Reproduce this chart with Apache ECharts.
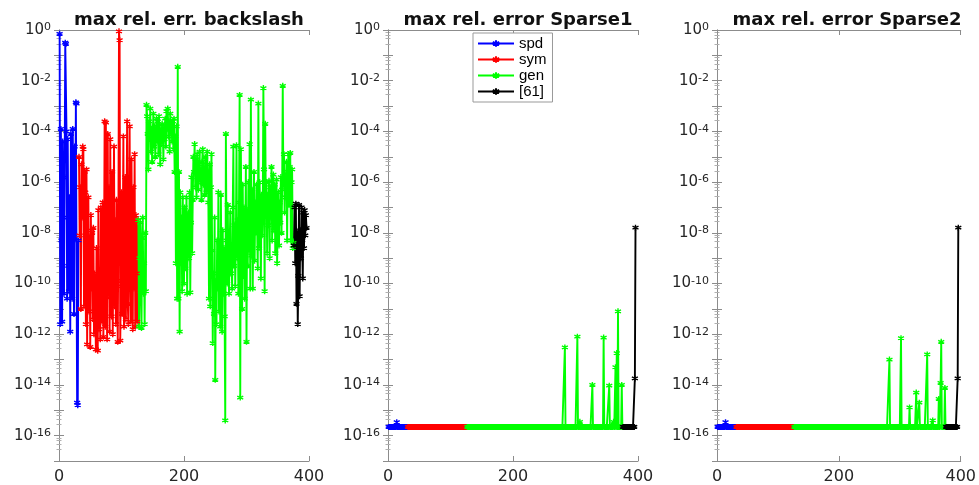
<!DOCTYPE html>
<html>
<head>
<meta charset="utf-8">
<title>max rel. error</title>
<script src="https://cdn.jsdelivr.net/npm/echarts@6/dist/echarts.min.js"></script>
<style>
  html, body { margin: 0; padding: 0; background: #fff; }
  #chart { width: 979px; height: 485px; }
</style>
</head>
<body>
<div id="chart"></div>
<script>
// first matrix index of every class
const spdStart = 1, symStart = 32, genStart = 127, refStart = 376
const classNames = ['spd', 'sym', 'gen', '[61]']
const classColors = ['#0000ff', '#ff0000', '#00ff00', '#000000']

// backslash, log10 of the max rel. error per matrix
const bsSpd = [-0.15, -11.6, -3.9, -8.3, -11.5, -4.4, -7.4, -10.4, -5.8, -0.5, -0.55, -4.0, -10.6, -4.3, -9.3, -10.3,
  -6.6, -11.9, -4.1, -7.8, -10.6, -3.9, -7.0, -11.2, -4.6, -8.2, -2.85, -2.9, -14.7, -14.8, -8.3]
const bsSym = [-5.0, -8.1, -6.2, -11.0, -5.3, -7.4, -4.6, -4.7, -10.9, -5.6,
  -6.4, -11.6, -5.5, -12.4, -7.9, -6.6, -11.1, -8.2, -12.5, -7.3,
  -10.2, -8.0, -11.4, -7.8, -12.0, -9.6, -11.0, -12.6, -8.6, -10.7,
  -12.65, -7.1, -11.8, -9.9, -12.2, -7.0, -10.6, -11.5, -6.8, -12.1,
  -9.1, -3.6, -11.7, -3.65, -8.4, -12.2, -4.1, -10.5, -6.2, -11.9,
  -4.3, -9.4, -11.3, -5.6, -12.0, -8.8, -4.6, -10.9, -7.5, -11.6,
  -6.7, -9.9, -12.3, -7.8, -0.05, -0.4, -12.25, -10.1, -6.4, -11.2,
  -8.3, -4.2, -11.7, -9.2, -5.8, -11.4, -7.6, -3.6, -10.8, -11.6,
  -6.9, -3.8, -9.7, -11.5, -5.1, -8.9, -11.8, -6.2, -10.2, -4.9,
  -11.7, -7.3, -9.6, -11.5, -7.5]
const bsGen = [-7.5, -11.7, -9.0, -7.6, -10.3, -11.75, -8.2, -7.4, -10.4, -9.2, -11.6, -8.0, -10.3,
  -2.95, -3.4, -4.1, -5.5, -3.6, -4.3, -3.1, -4.8, -3.9, -5.2,
  -4.0, -3.3, -4.6, -3.8, -5.0, -4.2, -3.5, -4.4, -3.6, -4.9,
  -3.4, -4.1, -5.3, -3.9, -4.5, -3.7, -4.0, -5.1, -3.8, -4.3,
  -3.5, -4.6, -3.2, -3.9, -3.1, -4.2, -3.6, -4.8, -3.3, -4.0,
  -3.7, -4.4, -3.6, -4.7, -3.5, -5.6, -4.2, -9.2, -3.8, -10.6,
  -1.45,
  -10.6, -5.6, -11.9, -6.4, -9.2, -7.4, -10.3, -6.6, -8.3, -10.0,
  -7.0, -9.4, -7.9, -6.6, -10.4, -8.4, -7.2, -9.0, -6.4, -10.35,
  -7.6, -5.8, -8.8, -6.7, -5.0,
  -5.6, -4.5, -6.2, -5.1, -6.6, -4.9, -5.8, -6.3, -5.3, -4.8,
  -6.0, -5.5, -6.7, -5.2, -4.7, -6.1, -5.4, -6.5, -5.0, -5.9,
  -6.4, -4.8, -5.6, -6.8, -10.6, -5.3, -10.9, -6.2, -4.9, -8.7,
  -12.35, -9.6, -11.2, -7.4, -13.8, -9.9, -11.6, -8.3, -10.2, -6.4,
  -11.1, -8.4, -11.7, -6.5, -9.8, -11.9, -7.9, -10.4, -8.6, -11.3,
  -15.4, -4.1,
  -8.3, -10.0, -6.9, -9.1, -10.4, -8.6, -7.2, -9.6, -8.9, -10.2,
  -7.0, -4.6, -9.3, -7.7, -10.1, -8.2, -4.55, -9.0, -7.5, -10.4,
  -6.8, -2.56, -14.5, -4.7, -8.4, -11.0, -6.1, -9.7, -7.0, -10.6,
  -8.2, -5.4, -12.3, -7.1, -9.3, -6.0, -8.7, -4.5, -10.2, -2.75,
  -8.9, -6.3, -10.2, -7.4, -5.6, -9.1, -6.8, -8.0, -6.1, -7.7,
  -9.4, -2.9, -8.6, -6.0, -7.3, -9.8, -6.5, -8.1, -7.0, -2.29,
  -5.5, -10.3, -3.7, -7.2, -6.0, -8.8, -6.5, -7.7, -5.95, -9.0,
  -6.2, -7.4, -5.4, -8.3, -6.6, -5.7, -7.9, -6.1, -8.8, -6.9,
  -5.9, -9.2, -7.1, -6.4, -8.5, -6.8, -7.6, -5.8, -8.0, -6.3,
  -2.2,
  -6.1, -4.9, -7.2, -5.8, -6.6, -5.2, -8.3, -5.6, -4.9, -6.9,
  -5.4, -4.85, -8.3, -6.0, -5.5, -8.6, -8.4]
const bsRef = [-8.5, -7.0, -9.2, -6.85, -10.8, -8.0, -11.6, -9.7, -6.9, -10.5, -7.9, -9.0, -7.0, -8.3, -9.8,
  -7.2, -8.6, -7.1, -8.1, -7.3, -7.8]

// Sparse1 / Sparse2 sit at the eps floor except for these [index, error] points
const sparseFloor = 2.2e-16
const s1Spd = [[14, 3.4e-16]]
const s1Sym = []
const s1Gen = [[283, 3e-13], [303, 8e-13], [307, 3.5e-16], [327, 1e-14], [345, 7.4e-13], [354, 9.3e-15],
  [361, 3.5e-16], [364, 5e-14], [366, 1.8e-13], [368, 8e-12], [374, 1e-14]]
const s1Ref = [[395, 1.8e-14], [396, 1.6e-8]]
const s2Spd = [[14, 3.4e-16]]
const s2Sym = []
const s2Gen = [[283, 1e-13], [302, 7e-13], [316, 1.3e-15], [327, 5e-15], [332, 2e-15], [345, 1.6e-13],
  [354, 4e-16], [364, 2.8e-15], [367, 1.2e-14], [368, 5e-13], [374, 7.6e-15]]
const s2Ref = [[395, 1.8e-14], [396, 1.6e-8]]

const titles = ['max rel. err. backslash', 'max rel. error Sparse1', 'max rel. error Sparse2']
const xTicks = [0, 200, 400]

const font = 'DejaVu Sans, Verdana, sans-serif'
const legendFont = 'Liberation Sans, Arial, Helvetica, sans-serif'
const axisGray = '#8c8c8c'
const lefts = [59, 388, 717]
const plotW = 250

function expPoints(start, exps) {
  return exps.map((e, i) => [start + i, Math.pow(10, e)])
}
function sparsePoints(start, count, spikes) {
  const out = []
  for (let i = 0; i < count; i++) out.push([start + i, sparseFloor])
  spikes.forEach(([idx, v]) => { out[idx - start][1] = v })
  return out
}

const counts = [symStart - spdStart, genStart - symStart, refStart - genStart, bsRef.length]
const starts = [spdStart, symStart, genStart, refStart]
const panels = [
  [bsSpd, bsSym, bsGen, bsRef].map((a, k) => expPoints(starts[k], a)),
  [s1Spd, s1Sym, s1Gen, s1Ref].map((s, k) => sparsePoints(starts[k], counts[k], s)),
  [s2Spd, s2Sym, s2Gen, s2Ref].map((s, k) => sparsePoints(starts[k], counts[k], s))
]

// matlab style '*' marker
const star = 'path://M5,0L5,10M0.7,2.5L9.3,7.5M9.3,2.5L0.7,7.5'

const grids = [], xAxes = [], yAxes = [], series = [], titleOpts = []
lefts.forEach((left, g) => {
  grids.push({ left: left, width: plotW, top: 30, height: 431 })
  titleOpts.push({
    text: titles[g], left: left + plotW / 2, top: 6, textAlign: 'center',
    textStyle: { fontFamily: font, fontSize: 18, fontWeight: 'bold', color: '#111' }
  })
  ;['bottom', 'top'].forEach(pos => {
    xAxes.push({
      type: 'value', gridIndex: g, position: pos, min: xTicks[0], max: xTicks[2], interval: xTicks[1] - xTicks[0],
      axisLine: { show: true, lineStyle: { color: axisGray } },
      axisTick: { show: true, inside: true, length: 5, lineStyle: { color: axisGray } },
      splitLine: { show: false },
      axisLabel: {
        show: pos === 'bottom', margin: 8, fontFamily: font, fontSize: 16, color: '#262626'
      }
    })
  })
  ;['left', 'right'].forEach(pos => {
    yAxes.push({
      type: 'log', logBase: 10, gridIndex: g, position: pos, min: 1e-17, max: 1, interval: 1,
      axisLine: { show: true, lineStyle: { color: axisGray } },
      axisTick: { show: true, inside: true, length: 5, lineStyle: { color: axisGray } },
      minorTick: { show: true, splitNumber: 5, length: 2.5, lineStyle: { color: '#b0b0b0' } },
      splitLine: { show: false },
      axisLabel: {
        show: pos === 'left', margin: 8,
        formatter: v => {
          const e = Math.round(Math.log10(v))
          if (e % 2 !== 0) return ''
          return '{b|10}{s|' + e + '}'
        },
        rich: {
          b: { fontFamily: font, fontSize: 15, color: '#262626', lineHeight: 16 },
          s: { fontFamily: font, fontSize: 11, color: '#262626', verticalAlign: 'top', lineHeight: 11 }
        }
      }
    })
  })
  panels[g].forEach((data, k) => {
    series.push({
      name: classNames[k], type: 'line', xAxisIndex: g * 2, yAxisIndex: g * 2,
      data: data, symbol: star, symbolSize: 6,
      lineStyle: { color: classColors[k], width: 1.9 },
      itemStyle: { color: classColors[k], borderColor: classColors[k], borderWidth: 1.4 },
      emphasis: { disabled: true }
    })
  })
})

const chart = echarts.init(document.getElementById('chart'))
chart.setOption({
  animation: false,
  backgroundColor: '#ffffff',
  title: titleOpts,
  grid: grids,
  xAxis: xAxes,
  yAxis: yAxes,
  legend: {
    data: classNames, orient: 'vertical', left: 473, top: 33,
    itemWidth: 36, itemHeight: 8, itemGap: 1, padding: [3, 6, 3, 4],
    borderColor: '#999', borderWidth: 1, backgroundColor: '#fff',
    textStyle: { fontFamily: legendFont, fontSize: 15, color: '#000', lineHeight: 15 }
  },
  series: series
})
</script>
</body>
</html>
